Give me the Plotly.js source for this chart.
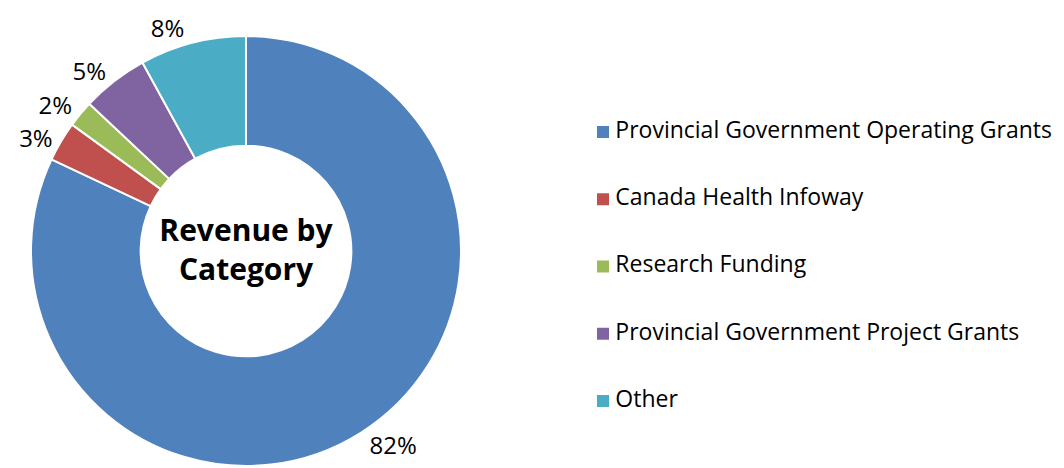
<!DOCTYPE html>
<html>
<head>
<meta charset="utf-8">
<script src="https://cdn.plot.ly/plotly-3.0.1.min.js"></script>
<style>html,body{margin:0;padding:0;background:#fff}#chart{width:1064px;height:468px}
#chart path.textline{display:none !important;}</style>
</head>
<body>
<div id="chart"></div>
<script>
const categories = [
  "Provincial Government Operating Grants",
  "Canada Health Infoway",
  "Research Funding",
  "Provincial Government Project Grants",
  "Other"
];
const values = [82, 3, 2, 5, 8];
const colors = ["#4F81BD", "#C0504D", "#9BBB59", "#8064A2", "#4BACC6"];
const centerTitle = "Revenue by<br>Category";

const W = 1064, H = 468;
const FONT = "'Open Sans', sans-serif";

const pie = {
  type: "pie",
  labels: categories,
  values: values,
  sort: false,
  direction: "clockwise",
  rotation: 0,
  hole: 0.49,
  marker: { colors: colors, line: { color: "#ffffff", width: 2 } },
  texttemplate: "%{percent:.0%}",
  textposition: "outside",
  outsidetextfont: { family: FONT, size: 24, color: "#000000" },
  title: { text: "<b>" + centerTitle + "</b>", position: "middle center", font: { family: FONT, size: 30, color: "#000000" } },
  domain: { x: [31 / W, 461 / W], y: [2 / H, 432 / H] },
  showlegend: false,
  hoverinfo: "label+percent"
};

// legend drawn as a marker+text series, one row per category
const legendRows = categories.map((c, i) => i);
const legend = {
  type: "scatter",
  mode: "markers+text",
  x: categories.map(() => 0),
  y: legendRows,
  text: categories,
  texttemplate: "\u2009%{text}",
  textposition: "middle right",
  textfont: { family: FONT, size: 23, color: "#000000" },
  marker: { symbol: "square", size: 12, color: colors, line: { width: 0 } },
  cliponaxis: false,
  showlegend: false,
  hoverinfo: "skip",
  xaxis: "x", yaxis: "y"
};

const layout = {
  width: W, height: H,
  margin: { l: 0, r: 0, t: 0, b: 0 },
  paper_bgcolor: "#ffffff",
  plot_bgcolor: "rgba(0,0,0,0)",
  showlegend: false,
  xaxis: { domain: [0, 1], range: [-603, 461], visible: false, fixedrange: true },
  yaxis: { domain: [0, 1], range: [(468 - 132) / 67.25, -132 / 67.25], visible: false, fixedrange: true },
  font: { family: FONT }
};

Plotly.newPlot("chart", [pie, legend], layout, { displayModeBar: false, staticPlot: true });
</script>
</body>
</html>
